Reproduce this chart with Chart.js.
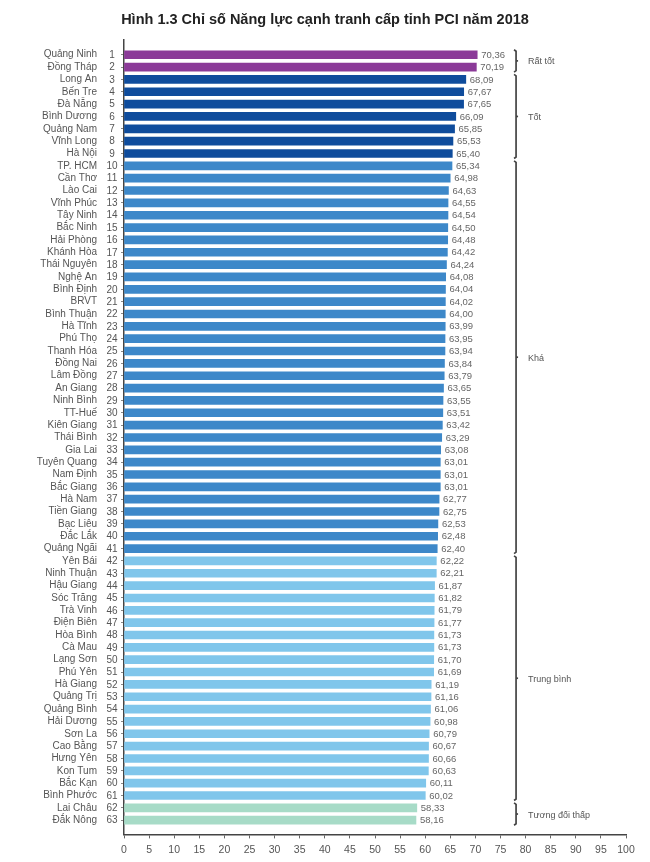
<!DOCTYPE html>
<html>
<head>
<meta charset="utf-8">
<script src="https://cdn.jsdelivr.net/npm/chart.js@4.4.1/dist/chart.umd.min.js"></script>
<style>
  html, body { margin: 0; padding: 0; background: #fff; }
  #wrap { width: 650px; height: 862px; }
</style>
</head>
<body>
<div id="wrap"><canvas id="pci"></canvas></div>
<script>
// PCI 2018 data, ranked
const provinces = [
  'Quảng Ninh', 'Đồng Tháp', 'Long An', 'Bến Tre', 'Đà Nẵng', 'Bình Dương', 'Quảng Nam', 'Vĩnh Long', 'Hà Nội',
  'TP. HCM', 'Cần Thơ', 'Lào Cai', 'Vĩnh Phúc', 'Tây Ninh', 'Bắc Ninh', 'Hải Phòng', 'Khánh Hòa', 'Thái Nguyên',
  'Nghệ An', 'Bình Định', 'BRVT', 'Bình Thuận', 'Hà Tĩnh', 'Phú Thọ', 'Thanh Hóa', 'Đồng Nai', 'Lâm Đồng',
  'An Giang', 'Ninh Bình', 'TT-Huế', 'Kiên Giang', 'Thái Bình', 'Gia Lai', 'Tuyên Quang', 'Nam Định', 'Bắc Giang',
  'Hà Nam', 'Tiền Giang', 'Bạc Liêu', 'Đắc Lắk', 'Quảng Ngãi', 'Yên Bái', 'Ninh Thuận', 'Hậu Giang', 'Sóc Trăng',
  'Trà Vinh', 'Điện Biên', 'Hòa Bình', 'Cà Mau', 'Lạng Sơn', 'Phú Yên', 'Hà Giang', 'Quảng Trị', 'Quảng Bình',
  'Hải Dương', 'Sơn La', 'Cao Bằng', 'Hưng Yên', 'Kon Tum', 'Bắc Kạn', 'Bình Phước', 'Lai Châu', 'Đắk Nông'
];
const ranks = [
  1, 2, 3, 4, 5, 6, 7, 8, 9, 10, 11, 12, 13, 14, 15, 16, 17, 18, 19, 20, 21,
  22, 23, 24, 25, 26, 27, 28, 29, 30, 31, 32, 33, 34, 35, 36, 37, 38, 39, 40, 41, 42,
  43, 44, 45, 46, 47, 48, 49, 50, 51, 52, 53, 54, 55, 56, 57, 58, 59, 60, 61, 62, 63
];
const scores = [
  70.36, 70.19, 68.09, 67.67, 67.65, 66.09, 65.85, 65.53, 65.40,
  65.34, 64.98, 64.63, 64.55, 64.54, 64.50, 64.48, 64.42, 64.24,
  64.08, 64.04, 64.02, 64.00, 63.99, 63.95, 63.94, 63.84, 63.79,
  63.65, 63.55, 63.51, 63.42, 63.29, 63.08, 63.01, 63.01, 63.01,
  62.77, 62.75, 62.53, 62.48, 62.40, 62.22, 62.21, 61.87, 61.82,
  61.79, 61.77, 61.73, 61.73, 61.70, 61.69, 61.19, 61.16, 61.06,
  60.98, 60.79, 60.67, 60.66, 60.63, 60.11, 60.02, 58.33, 58.16
];

// rating groups (by rank range)
const groupNames = ['Rất tốt', 'Tốt', 'Khá', 'Trung bình', 'Tương đối thấp'];
const groupFirst = [1, 3, 10, 42, 62];
const groupLast = [2, 9, 41, 61, 63];
const groupColors = ['#8b3a98', '#0f4c9c', '#3d88c9', '#80c6eb', '#a7dbc7'];

const barColors = ranks.map(r => groupColors[groupFirst.filter(f => f <= r).length - 1]);
const FONT = '"Liberation Sans", Arial, sans-serif';

// ranks, value labels and group brackets
const extras = {
  id: 'extras',
  afterDatasetsDraw(chart) {
    const ctx = chart.ctx;
    const x = chart.scales.x;
    const y = chart.scales.y;
    const area = chart.chartArea;
    ctx.save();
    ctx.textBaseline = 'middle';

    ctx.font = '10px ' + FONT;
    ctx.fillStyle = '#555';
    ctx.textAlign = 'center';
    ranks.forEach((r, i) => ctx.fillText(String(r), area.left - 12, y.getPixelForValue(i) + 0.5));

    ctx.font = '9.5px ' + FONT;
    ctx.fillStyle = '#666';
    ctx.textAlign = 'left';
    scores.forEach((v, i) => {
      ctx.fillText(v.toFixed(2).replace('.', ','), x.getPixelForValue(v) + 4, y.getPixelForValue(i) + 0.5);
    });

    const bx = x.getPixelForValue(78.1);
    ctx.strokeStyle = '#444';
    ctx.lineWidth = 1.7;
    groupNames.forEach((g, k) => {
      const top = y.getPixelForValue(groupFirst[k] - 1) - 5;
      const bot = y.getPixelForValue(groupLast[k] - 1) + 5;
      const mid = (top + bot) / 2;
      ctx.beginPath();
      ctx.moveTo(bx - 2, top);
      ctx.lineTo(bx, top + 1.5);
      ctx.lineTo(bx, bot - 1.5);
      ctx.lineTo(bx - 2, bot);
      ctx.stroke();
      ctx.beginPath();
      ctx.moveTo(bx, mid);
      ctx.lineTo(bx + 2, mid);
      ctx.stroke();
      ctx.fillStyle = '#555';
      ctx.font = '9px ' + FONT;
      ctx.fillText(g, bx + 12, mid + 1);
    });
    ctx.restore();
  }
};

new Chart(document.getElementById('pci'), {
  type: 'bar',
  data: {
    datasets: [{
      data: scores.map((v, i) => ({ x: v, y: i })),
      backgroundColor: barColors,
      barThickness: 8,
      borderWidth: 0
    }]
  },
  options: {
    indexAxis: 'y',
    responsive: true,
    maintainAspectRatio: false,
    animation: false,
    layout: { padding: { left: 0, right: 0, top: 0, bottom: 1 } },
    plugins: {
      legend: { display: false },
      tooltip: { enabled: false },
      title: {
        display: true,
        text: 'Hình 1.3 Chỉ số Năng lực cạnh tranh cấp tỉnh PCI năm 2018',
        color: '#222',
        font: { family: FONT, size: 14.5, weight: 'bold' },
        padding: { top: 11, bottom: 11.5 }
      }
    },
    scales: {
      x: {
        type: 'linear',
        position: 'bottom',
        min: 0,
        max: 100,
        ticks: { stepSize: 5, color: '#555', font: { family: FONT, size: 10.5 }, padding: 5 },
        grid: { drawOnChartArea: false, tickLength: 4, color: '#666' },
        border: { color: '#444', width: 1.5 }
      },
      y: {
        type: 'linear',
        reverse: true,
        offset: false,
        min: -1.2,
        max: 63.15,
        afterFit(scale) {
          scale.width = 124;
          scale.paddingTop = 0;
          scale.paddingBottom = 0;
        },
        ticks: {
          stepSize: 1,
          autoSkip: false,
          padding: 24,
          color: '#555',
          font: { family: FONT, size: 10 },
          callback: v => (Number.isInteger(v) && provinces[v]) ? provinces[v] : null
        },
        grid: { offset: false, drawOnChartArea: false, tickLength: 3, color: '#888' },
        border: { color: '#444', width: 1.5 }
      },
      // empty right margin so the title stays centred on the page
      margin: {
        type: 'linear',
        position: 'right',
        afterFit(scale) {
          scale.width = 24;
          scale.paddingTop = 0;
          scale.paddingBottom = 0;
        },
        ticks: { display: false },
        grid: { display: false },
        border: { display: false }
      }
    }
  },
  plugins: [extras]
});
</script>
</body>
</html>
